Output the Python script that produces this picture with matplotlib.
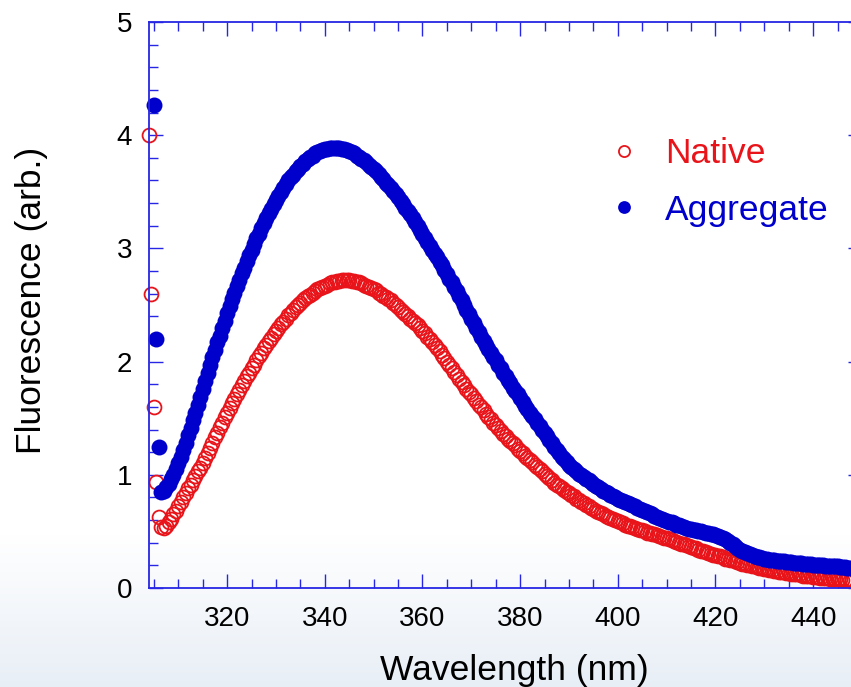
import numpy as np
import matplotlib.pyplot as plt
from matplotlib.ticker import MultipleLocator

plt.rcParams['font.family'] = ['Liberation Sans', 'DejaVu Sans']

# fluorescence spectra, 0.5 nm steps
native_start = 304.0
native = [
    4.00, 2.60, 1.60, 0.94, 0.63, 0.54, 0.53, 0.55, 0.58, 0.61,
    0.65, 0.68, 0.72, 0.76, 0.80, 0.84, 0.88, 0.91, 0.95, 0.99,
    1.03, 1.06, 1.10, 1.15, 1.19, 1.24, 1.28, 1.33, 1.37, 1.42,
    1.46, 1.51, 1.55, 1.59, 1.63, 1.67, 1.71, 1.75, 1.79, 1.83,
    1.87, 1.90, 1.94, 1.97, 2.01, 2.05, 2.08, 2.12, 2.15, 2.18,
    2.21, 2.24, 2.27, 2.30, 2.33, 2.35, 2.38, 2.41, 2.43, 2.46,
    2.48, 2.50, 2.52, 2.54, 2.56, 2.58, 2.59, 2.61, 2.62, 2.64,
    2.65, 2.66, 2.67, 2.68, 2.69, 2.70, 2.70, 2.71, 2.71, 2.72,
    2.72, 2.72, 2.72, 2.71, 2.71, 2.70, 2.70, 2.69, 2.68, 2.67,
    2.66, 2.65, 2.64, 2.63, 2.61, 2.60, 2.58, 2.57, 2.55, 2.54,
    2.52, 2.50, 2.48, 2.46, 2.44, 2.42, 2.40, 2.38, 2.36, 2.34,
    2.32, 2.30, 2.27, 2.25, 2.22, 2.20, 2.17, 2.15, 2.12, 2.09,
    2.06, 2.03, 2.00, 1.97, 1.94, 1.91, 1.88, 1.85, 1.82, 1.79,
    1.76, 1.73, 1.71, 1.68, 1.65, 1.62, 1.60, 1.57, 1.54, 1.51,
    1.49, 1.46, 1.44, 1.41, 1.39, 1.36, 1.34, 1.32, 1.30, 1.28,
    1.26, 1.23, 1.21, 1.19, 1.17, 1.15, 1.13, 1.11, 1.09, 1.07,
    1.05, 1.03, 1.01, 0.99, 0.97, 0.95, 0.93, 0.91, 0.90, 0.88,
    0.87, 0.85, 0.84, 0.82, 0.81, 0.79, 0.78, 0.76, 0.75, 0.73,
    0.72, 0.71, 0.70, 0.68, 0.67, 0.66, 0.65, 0.64, 0.63, 0.62,
    0.61, 0.60, 0.59, 0.58, 0.57, 0.56, 0.55, 0.545, 0.54, 0.53,
    0.52, 0.515, 0.51, 0.50, 0.49, 0.485, 0.48, 0.475, 0.47, 0.46,
    0.45, 0.445, 0.44, 0.43, 0.42, 0.415, 0.41, 0.40, 0.39, 0.385,
    0.38, 0.37, 0.36, 0.355, 0.35, 0.34, 0.33, 0.325, 0.32, 0.31,
    0.30, 0.295, 0.29, 0.285, 0.28, 0.27, 0.26, 0.255, 0.25, 0.245,
    0.24, 0.23, 0.22, 0.215, 0.21, 0.205, 0.20, 0.195, 0.19, 0.185,
    0.18, 0.175, 0.17, 0.165, 0.16, 0.155, 0.15, 0.148, 0.145, 0.142,
    0.14, 0.135, 0.13, 0.128, 0.125, 0.122, 0.12, 0.115, 0.11, 0.108,
    0.105, 0.102, 0.10, 0.098, 0.095, 0.092, 0.09, 0.088, 0.085, 0.082,
    0.08, 0.08, 0.08, 0.078, 0.075, 0.072, 0.07, 0.07, 0.07,
]

aggregate_start = 305.0
aggregate = [
    4.27, 2.20, 1.25, 0.85, 0.86, 0.89, 0.92, 0.96, 1.00, 1.05,
    1.10, 1.16, 1.22, 1.28, 1.35, 1.41, 1.48, 1.55, 1.62, 1.69,
    1.76, 1.83, 1.90, 1.97, 2.04, 2.10, 2.17, 2.23, 2.30, 2.36,
    2.43, 2.49, 2.55, 2.61, 2.67, 2.72, 2.78, 2.83, 2.89, 2.94,
    2.99, 3.04, 3.09, 3.13, 3.18, 3.22, 3.27, 3.31, 3.35, 3.39,
    3.43, 3.46, 3.50, 3.53, 3.57, 3.60, 3.63, 3.65, 3.68, 3.70,
    3.73, 3.75, 3.77, 3.79, 3.81, 3.82, 3.84, 3.85, 3.86, 3.87,
    3.88, 3.88, 3.89, 3.89, 3.89, 3.89, 3.89, 3.88, 3.88, 3.87,
    3.86, 3.85, 3.84, 3.82, 3.81, 3.79, 3.78, 3.76, 3.74, 3.72,
    3.70, 3.68, 3.66, 3.63, 3.61, 3.58, 3.56, 3.53, 3.51, 3.48,
    3.45, 3.42, 3.39, 3.36, 3.33, 3.30, 3.27, 3.23, 3.20, 3.16,
    3.13, 3.09, 3.06, 3.02, 2.99, 2.95, 2.92, 2.88, 2.85, 2.81,
    2.77, 2.73, 2.70, 2.66, 2.62, 2.58, 2.54, 2.50, 2.46, 2.42,
    2.38, 2.34, 2.30, 2.26, 2.22, 2.18, 2.15, 2.11, 2.08, 2.04,
    2.01, 1.97, 1.94, 1.90, 1.87, 1.84, 1.81, 1.77, 1.74, 1.71,
    1.68, 1.64, 1.61, 1.58, 1.55, 1.52, 1.49, 1.46, 1.43, 1.40,
    1.37, 1.34, 1.31, 1.28, 1.25, 1.22, 1.19, 1.16, 1.14, 1.11,
    1.09, 1.07, 1.05, 1.03, 1.01, 0.995, 0.98, 0.965, 0.95, 0.935,
    0.92, 0.905, 0.89, 0.875, 0.86, 0.85, 0.84, 0.825, 0.81, 0.80,
    0.79, 0.78, 0.77, 0.76, 0.75, 0.74, 0.73, 0.72, 0.71, 0.70,
    0.69, 0.68, 0.67, 0.66, 0.65, 0.64, 0.63, 0.62, 0.61, 0.60,
    0.59, 0.585, 0.58, 0.57, 0.56, 0.555, 0.55, 0.54, 0.53, 0.525,
    0.52, 0.515, 0.51, 0.505, 0.50, 0.495, 0.49, 0.485, 0.48, 0.475,
    0.47, 0.46, 0.45, 0.44, 0.43, 0.415, 0.40, 0.385, 0.37, 0.355,
    0.34, 0.33, 0.32, 0.31, 0.30, 0.29, 0.28, 0.275, 0.27, 0.265,
    0.26, 0.255, 0.25, 0.248, 0.245, 0.242, 0.24, 0.238, 0.235, 0.232,
    0.23, 0.228, 0.225, 0.222, 0.22, 0.218, 0.215, 0.212, 0.21, 0.208,
    0.205, 0.202, 0.20, 0.20, 0.20, 0.198, 0.195, 0.192, 0.19, 0.19,
    0.19, 0.188, 0.185, 0.182, 0.18, 0.18, 0.18,
]

step = 0.5
wl_native = native_start + step * np.arange(len(native))
wl_aggregate = aggregate_start + step * np.arange(len(aggregate))

axis_blue = '#2626e4'
red = '#e8141a'
blue = '#0000cc'

fig = plt.figure(figsize=(8.51, 6.87), dpi=100)

# light bluish shading at the bottom of the screenshot
bg = fig.add_axes([0, 0, 1, 1], zorder=-1)
t = np.linspace(0, 1, 400)[:, None, None]
w = np.clip((t - 0.78) / 0.22, 0, 1)
top_col = np.array([1.0, 1.0, 1.0])
bot_col = np.array([0.91, 0.935, 0.965])
img = top_col * (1 - w) + bot_col * w
bg.imshow(img, aspect='auto', extent=[0, 1, 0, 1], origin='upper')
bg.axis('off')

ax = fig.add_axes([149 / 851, 1 - 588 / 687, 713 / 851, 566 / 687])
ax.set_facecolor('none')

ax.plot(wl_native, native, linestyle='none', marker='o', ms=10,
        mfc='none', mec=red, mew=1.3, clip_on=False, label='Native')
ax.plot(wl_aggregate, aggregate, linestyle='none', marker='o', ms=11.5,
        mfc=blue, mec=blue, mew=0, clip_on=False, label='Aggregate')

ax.set_xlim(304, 450)
ax.set_ylim(0, 5)
ax.xaxis.set_minor_locator(MultipleLocator(5))
ax.yaxis.set_major_locator(MultipleLocator(1))
ax.yaxis.set_minor_locator(MultipleLocator(0.2))
ax.set_xticks([320, 340, 360, 380, 400, 420, 440])

for s in ax.spines.values():
    s.set_color(axis_blue)
    s.set_linewidth(1.3)
ax.tick_params(which='both', direction='in', colors=axis_blue,
               top=True, right=True, labelcolor='black', labelsize=20)
ax.tick_params(which='major', length=10, width=1.0)
ax.tick_params(which='minor', length=6.5, width=1.0)
ax.tick_params(axis='x', which='major', pad=13)
ax.tick_params(axis='y', which='major', pad=12)

ax.set_xlabel('Wavelength (nm)', fontsize=25.5)
ax.set_ylabel('Fluorescence (arb.)', fontsize=25.5)
ax.xaxis.set_label_coords(0.513, -0.116)
ax.yaxis.set_label_coords(-0.142, 0.509)

leg = ax.legend(loc='upper left', bbox_to_anchor=(610 / 851, 1 - 137 / 687),
                bbox_transform=fig.transFigure, frameon=False, fontsize=25.5,
                handlelength=0.8, handletextpad=0.75, labelspacing=0.67,
                borderpad=0, borderaxespad=0, markerscale=0.8)
for txt, col in zip(leg.get_texts(), [red, blue]):
    txt.set_color(col)

fig.savefig('out.png', dpi=100)
